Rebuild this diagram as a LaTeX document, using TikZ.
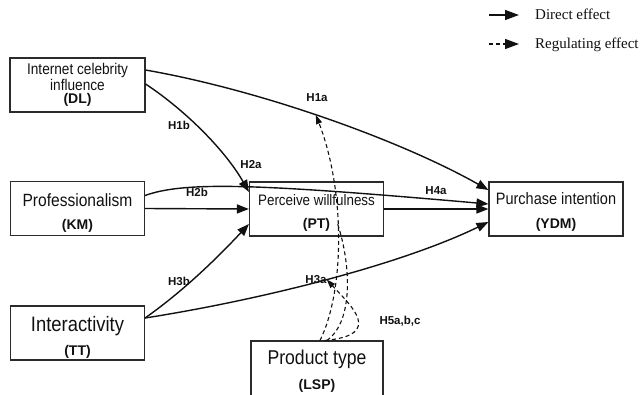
\documentclass[tikz,border=0pt]{standalone}
\usepackage{fontspec}
\setmainfont{Liberation Sans}
\newfontfamily\boxfont[FakeStretch=0.88]{Liberation Sans}
\newfontfamily\legfont{Liberation Serif}
\usepackage{xcolor}
\usetikzlibrary{arrows.meta}
\definecolor{ink}{HTML}{111111}
\definecolor{frame}{HTML}{2B2B2B}
\newcommand\shortname[1]{{\normalfont\bfseries\fontsize{14}{16}\selectfont(#1)}}
\newcommand\toprule[1]{\rule{0pt}{#1}}
\tikzset{
  box/.style={draw=frame, line width=1.1pt, inner sep=0pt, align=center, minimum width=134pt, minimum height=54pt, text=ink},
  direct/.style={draw=ink, line width=1.4pt, -{Triangle[length=12pt,width=9pt]}},
  moder/.style={draw=ink, line width=1.1pt, dash pattern=on 4pt off 3pt, -{Triangle[length=9pt,width=6pt]}},
  hyp/.style={text=ink, font=\bfseries\fontsize{11.5}{12}\selectfont, inner sep=0.5pt},
  leg/.style={text=ink, font=\legfont\fontsize{15}{16}\selectfont, anchor=west, inner sep=0pt}
}

\begin{document}
\begin{tikzpicture}[x=1pt,y=-1pt]
  \useasboundingbox (0,0) rectangle (643,394);
  \clip (0,0) rectangle (643,394);
  % constructs
  \node[box, font=\boxfont\fontsize{15.5}{14}\selectfont, minimum width=135pt] (dl) at (77.5,85) {Internet celebrity\\influence\\[-1pt]\shortname{DL}};
  \node[box, font=\boxfont\fontsize{17.7}{23}\selectfont] (km) at (77.5,208.5) {\toprule{21.8pt}Professionalism\\\shortname{KM}};
  \node[box, font=\boxfont\fontsize{20.9}{24}\selectfont] (tt) at (77.5,333) {\toprule{24pt}Interactivity\\\shortname{TT}};
  \node[box, font=\boxfont\fontsize{15.2}{23}\selectfont] (pt) at (316.5,209) {\toprule{19pt}Perceive willfulness\\\shortname{PT}};
  \node[box, font=\boxfont\fontsize{16.5}{24}\selectfont] (ydm) at (556,209) {\toprule{17pt}Purchase intention\\\shortname{YDM}};
  \node[box, font=\boxfont\fontsize{20}{25}\selectfont, minimum width=132pt, minimum height=58pt] (lsp) at (317,370) {\toprule{16.4pt}Product type\\\shortname{LSP}};
  % direct effects
  \draw[direct] ([yshift=15pt]dl.east) .. controls (260,90) and (400,140) .. ([yshift=19pt]ydm.west) coordinate[pos=0.47] (h1a);
  \draw[direct] ([yshift=1pt]dl.east) .. controls (185,110) and (225,150) .. ([yshift=17pt]pt.west);
  \draw[direct] ([yshift=13pt]km.east) .. controls (185,181) and (260,184) .. ([yshift=5pt]ydm.west);
  \draw[direct] (km.east) -- (pt.west);
  \draw[direct] (pt.east) -- (ydm.west);
  \draw[direct] ([yshift=15pt]tt.east) .. controls (185,290) and (220,255) .. ([yshift=-15pt]pt.west);
  \draw[direct] ([yshift=15pt]tt.east) .. controls (260,300) and (400,265) .. ([yshift=-13pt]ydm.west) coordinate[pos=0.5] (h3a);
  % regulating effects
  \coordinate (ptin) at (337,222);
  \draw[moder] ([xshift=3pt]lsp.north) .. controls (345,290) and (345,190) .. (h1a);
  \draw[moder, -] ([xshift=10pt]lsp.north) .. controls (355,320) and (350,260) .. (ptin);
  \draw[moder] ([xshift=8pt]lsp.north) .. controls (385,335) and (350,305) .. (h3a);
  % hypotheses
  \node[hyp] (l1a) at (317,98) {H1a};
  \node[hyp] (l1b) at (179,125) {H1b};
  \node[hyp] (l2a) at (251,165) {H2a};
  \node[hyp] (l2b) at (197,192) {H2b};
  \node[hyp] (l3b) at (179,281) {H3b};
  \node[hyp] (l3a) at (316,280) {H3a};
  \node[hyp] (l4a) at (436,191) {H4a};
  \node[hyp] (l5) at (400,321) {H5a,b,c};
  % legend
  \coordinate (d0) at (489,15);
  \coordinate (d1) at (519,15);
  \coordinate (r0) at (489,44);
  \coordinate (r1) at (519,44);
  \draw[direct, -{Triangle[length=14pt,width=10pt]}] (d0) -- (d1);
  \draw[moder, line width=1.3pt, -{Triangle[length=14pt,width=10pt]}] (r0) -- (r1);
  \node[leg] (ldir) at (535,14) {Direct effect};
  \node[leg] (lreg) at (535,45) {Regulating effect};
\end{tikzpicture}
\end{document}
